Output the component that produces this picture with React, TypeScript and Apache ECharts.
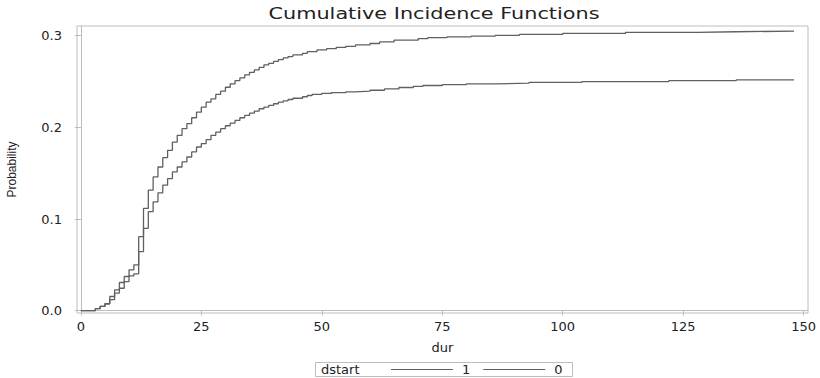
import React, { useEffect, useRef } from "react";
import * as echarts from "echarts";

// Step times (dur) and cumulative incidence for each dstart group
const timesGroup1 = [0, 3, 4, 5, 6, 7, 8, 9, 10, 11, 12, 13, 14, 15, 16, 17, 18, 19, 20, 21, 22, 23, 24, 25, 26, 27, 28, 29, 30, 31, 32, 33, 34, 35, 36, 37, 38, 39, 40, 41, 42, 43, 44, 46, 47, 49, 51, 53, 55, 57, 60, 62, 65, 70, 72, 76, 81, 86, 91, 100, 113, 128, 136, 148];
const cifGroup1 = [0, 0.0022, 0.0047, 0.0076, 0.0155, 0.0228, 0.0308, 0.0373, 0.0446, 0.05, 0.0808, 0.1116, 0.1315, 0.146, 0.1568, 0.167, 0.175, 0.184, 0.1913, 0.1986, 0.204, 0.2105, 0.2166, 0.222, 0.2275, 0.2312, 0.2359, 0.2395, 0.2438, 0.2475, 0.2511, 0.254, 0.2573, 0.2601, 0.2627, 0.2655, 0.2682, 0.2699, 0.2721, 0.2739, 0.2758, 0.2772, 0.279, 0.2808, 0.2826, 0.2845, 0.2859, 0.2873, 0.2884, 0.2899, 0.2915, 0.2932, 0.2951, 0.2969, 0.298, 0.2988, 0.2996, 0.3004, 0.3014, 0.3025, 0.3036, 0.3043, 0.305, 0.305];

const timesGroup0 = [0, 3, 4, 5, 6, 7, 8, 9, 10, 11, 12, 13, 14, 15, 16, 17, 18, 19, 20, 21, 22, 23, 24, 25, 26, 27, 28, 29, 30, 31, 32, 33, 34, 35, 36, 37, 38, 39, 40, 41, 42, 43, 44, 46, 47, 48, 50, 52, 55, 57, 60, 63, 66, 69, 71, 75, 80, 86, 93, 104, 122, 136, 148];
const cifGroup0 = [0, 0.0022, 0.0047, 0.0076, 0.012, 0.0192, 0.0245, 0.0318, 0.038, 0.0402, 0.0645, 0.0899, 0.108, 0.1188, 0.1286, 0.137, 0.1442, 0.1514, 0.1568, 0.1623, 0.1677, 0.1732, 0.1786, 0.1823, 0.1866, 0.1913, 0.1949, 0.1986, 0.2018, 0.2047, 0.2076, 0.2105, 0.213, 0.2155, 0.2177, 0.2203, 0.2221, 0.2239, 0.2258, 0.2275, 0.229, 0.2304, 0.2318, 0.2334, 0.2348, 0.2359, 0.237, 0.238, 0.2388, 0.2395, 0.2405, 0.242, 0.2435, 0.2447, 0.2457, 0.2467, 0.2475, 0.2482, 0.2492, 0.25, 0.251, 0.2518, 0.2518];

const xTicks = [0, 25, 50, 75, 100, 125, 150];
const yTicks = [0, 0.1, 0.2, 0.3];

const LINE = "#606060";
const FRAME = "#bdbdbd";
const TEXT = "#222";
const FONT = "'DejaVu Sans', 'Liberation Sans', sans-serif";

const pairs = (xs: number[], ys: number[]) => xs.map((x, i) => [x, ys[i]]);

export default function App() {
  const ref = useRef<HTMLDivElement>(null);

  useEffect(() => {
    if (!ref.current) return;
    const chart = echarts.init(ref.current, undefined, { renderer: "svg" });
    chart.setOption({
      animation: false,
      backgroundColor: "#fff",
      grid: {
        left: 77,
        top: 26,
        right: 12,
        bottom: 65,
        outerBoundsMode: "none",
        show: true,
        borderColor: FRAME,
        borderWidth: 1,
        backgroundColor: "transparent",
      },
      xAxis: {
        type: "value",
        min: -0.8,
        max: 150.9,
        name: "dur",
        nameLocation: "middle",
        nameGap: 28,
        nameTextStyle: { fontFamily: FONT, fontSize: 13, color: TEXT },
        axisLine: { show: true, lineStyle: { color: FRAME } },
        axisTick: { show: true, customValues: xTicks, length: 5, lineStyle: { color: FRAME } },
        axisLabel: {
          customValues: xTicks,
          fontFamily: FONT,
          fontSize: 13,
          color: TEXT,
          margin: 7,
        },
        splitLine: { show: false },
      },
      yAxis: {
        type: "value",
        min: -0.0025,
        max: 0.3106,
        name: "Probability",
        nameLocation: "middle",
        nameGap: 59,
        nameRotate: 90,
        nameTextStyle: {
          fontFamily: "'Liberation Sans Narrow', 'Liberation Sans', sans-serif",
          fontSize: 12,
          color: TEXT,
        },
        axisLine: { show: true, lineStyle: { color: FRAME } },
        axisTick: { show: true, customValues: yTicks, length: 6, lineStyle: { color: FRAME } },
        axisLabel: {
          customValues: yTicks,
          formatter: (v: number) => v.toFixed(1),
          fontFamily: FONT,
          fontSize: 13,
          color: TEXT,
          margin: 15,
        },
        splitLine: { show: false },
      },
      legend: {
        left: 391,
        top: 363,
        icon: "rect",
        itemWidth: 62,
        itemHeight: 1,
        itemGap: 13,
        padding: 0,
        data: ["1", "0"],
        textStyle: { fontFamily: FONT, fontSize: 13, color: TEXT, padding: [0, 0, 0, 4] },
      },
      graphic: [
        {
          type: "text",
          x: 434,
          y: 13,
          scaleX: 1.3,
          style: {
            text: "Cumulative Incidence Functions",
            fontFamily: FONT,
            fontSize: 16,
            fill: TEXT,
            textAlign: "center",
            textVerticalAlign: "middle",
          },
        },
        {
          type: "rect",
          shape: { x: 315.5, y: 362.5, width: 257, height: 14 },
          style: { fill: "#fff", stroke: FRAME, lineWidth: 1 },
          z: -1,
        },
        {
          type: "text",
          x: 321,
          y: 369.5,
          style: {
            text: "dstart",
            fontFamily: FONT,
            fontSize: 13,
            fill: TEXT,
            textVerticalAlign: "middle",
          },
        },
      ],
      series: [
        {
          name: "1",
          type: "line",
          step: "end",
          showSymbol: false,
          data: pairs(timesGroup1, cifGroup1),
          lineStyle: { color: LINE, width: 1.3 },
          itemStyle: { color: LINE },
        },
        {
          name: "0",
          type: "line",
          step: "end",
          showSymbol: false,
          data: pairs(timesGroup0, cifGroup0),
          lineStyle: { color: LINE, width: 1.3 },
          itemStyle: { color: LINE },
        },
      ],
    });
    return () => chart.dispose();
  }, []);

  return (
    <div
      ref={ref}
      style={{ position: "fixed", left: 0, top: 0, width: 820, height: 378 }}
    />
  );
}
